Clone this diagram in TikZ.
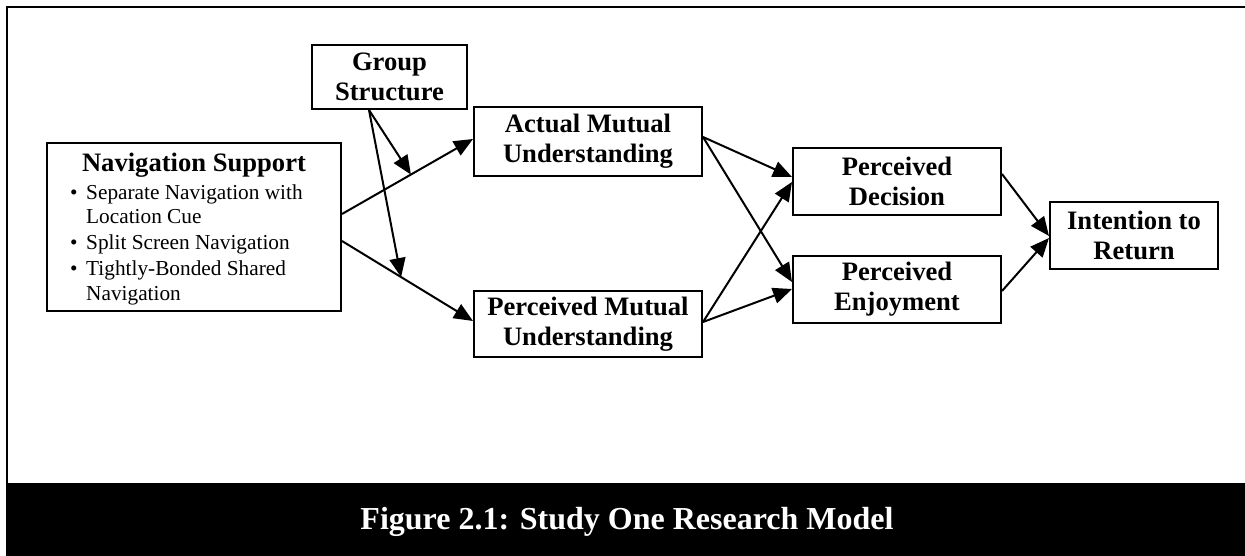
\documentclass[tikz,border=0pt]{standalone}
\usepackage{fontspec}
\setmainfont{Liberation Serif}
\usetikzlibrary{arrows.meta,calc}
\begin{document}
\begin{tikzpicture}[x=1pt,y=-1pt,
  box/.style={draw=black,line width=2pt,rectangle,inner sep=0pt,align=center,
    font=\fontsize{26.6}{30}\selectfont\bfseries},
  conn/.style={line width=2pt,-{Triangle[length=19pt,width=16pt]}},
  bul/.style={anchor=base west,inner sep=0pt,font=\fontsize{21.3}{25}\selectfont}
]
\useasboundingbox (0,0) rectangle (1245,556);
% frame and caption band
\draw[line width=2pt] (1245,7) -- (7,7) -- (7,484);
\fill[black] (6,483) rectangle (1245,556);
\node[text=white,font=\fontsize{32}{36}\selectfont\bfseries] (cap) at (627,522) {Figure 2.1: Study One Research Model};

% boxes
\node[box,minimum width=155pt,minimum height=64pt] (gs) at (389.5,77) {Group\\Structure};
\node[box,minimum width=294pt,minimum height=168pt] (nav) at (194,227) {};
\node[box,minimum width=228pt,minimum height=69pt] (amu) at (588,141.5) {Actual Mutual\\Understanding};
\node[box,minimum width=228pt,minimum height=66pt] (pmu) at (588,324) {Perceived Mutual\\Understanding};
\node[box,minimum width=208pt,minimum height=67pt] (pd) at (897,181.5) {Perceived\\Decision};
\node[box,minimum width=208pt,minimum height=67pt] (pe) at (897,289.5) {Perceived\\Enjoyment};
\node[box,minimum width=168pt,minimum height=67pt] (itr) at (1134,235.5) {Intention to\\Return};

% navigation support text
\node[anchor=base,inner sep=0pt,font=\fontsize{26.6}{30}\selectfont\bfseries] (navt) at (194,172) {Navigation Support};
\node[bul] (b1) at (70,200) {•};
\node[bul] (t1) at (86,200) {Separate Navigation with};
\node[bul] (t1b) at (86,224) {Location Cue};
\node[bul] (b2) at (70,250) {•};
\node[bul] (t2) at (86,250) {Split Screen Navigation};
\node[bul] (b3) at (70,275) {•};
\node[bul] (t3) at (86,275) {Tightly-Bonded Shared};
\node[bul] (t3b) at (86,300) {Navigation};

% connectors
\coordinate (n1s) at ($(nav.north east)+(0,72)$);
\coordinate (n1e) at ($(amu.north west)+(0,33)$);
\coordinate (n2s) at ($(nav.north east)+(0,99)$);
\coordinate (n2e) at ($(pmu.north west)+(0,31)$);
\path (n1s) -- (n1e) coordinate[pos=0.526] (m1);
\path (n2s) -- (n2e) coordinate[pos=0.451] (m2);
\coordinate (gsb) at ($(gs.south west)+(58,0)$);

\draw[conn] (n1s) -- (n1e);
\draw[conn] (n2s) -- (n2e);
\draw[conn] (gsb) -- (m1);
\draw[conn] (gsb) -- (m2);

\coordinate (a1) at ($(amu.north east)+(0,31)$);
\coordinate (p1) at ($(pmu.north east)+(0,32)$);
\draw[conn] (a1) -- ($(pd.north west)+(0,30)$);
\draw[conn] (a1) -- ($(pe.north west)+(0,27)$);
\draw[conn] (p1) -- ($(pd.north west)+(0,35)$);
\draw[conn] (p1) -- ($(pe.north west)+(0,34)$);

\draw[conn] ($(pd.north east)+(0,27)$) -- ($(itr.north west)+(0,35)$);
\draw[conn] ($(pe.north east)+(0,36)$) -- ($(itr.north west)+(0,37)$);
\end{tikzpicture}
\end{document}
